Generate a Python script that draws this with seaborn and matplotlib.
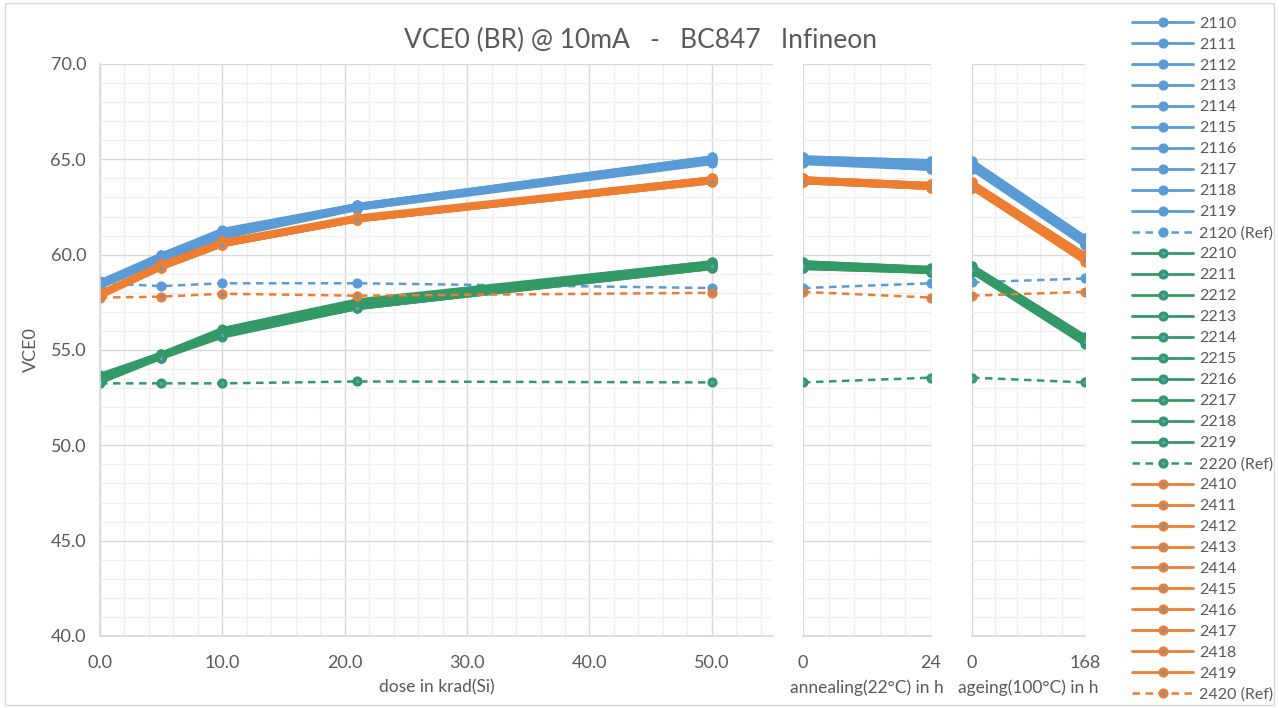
import matplotlib
matplotlib.use("Agg")
import matplotlib.pyplot as plt
import seaborn as sns
import numpy as np
from matplotlib.ticker import MultipleLocator
from matplotlib.patches import Rectangle
from matplotlib.lines import Line2D

# ---------------- data ----------------
dose_x = [0, 5, 10, 21, 50]
anneal_x = [0, 24]
ageing_x = [0, 168]

blue_labels = ["2110", "2111", "2112", "2113", "2114", "2115", "2116", "2117", "2118", "2119", "2120 (Ref)"]
green_labels = ["2210", "2211", "2212", "2213", "2214", "2215", "2216", "2217", "2218", "2219", "2220 (Ref)"]
orange_labels = ["2410", "2411", "2412", "2413", "2414", "2415", "2416", "2417", "2418", "2419", "2420 (Ref)"]

blue_dose = [
    [58.5, 60.0, 61.2, 62.6, 65.1],
    [58.4, 59.9, 61.1, 62.5, 65.0],
    [58.5, 59.8, 61.0, 62.5, 64.9],
    [58.6, 60.0, 61.2, 62.6, 65.0],
    [58.4, 59.9, 61.0, 62.4, 64.9],
    [58.5, 59.9, 61.1, 62.5, 65.0],
    [58.3, 59.7, 60.9, 62.4, 64.8],
    [58.5, 60.0, 61.3, 62.6, 65.1],
    [58.4, 59.8, 61.0, 62.5, 64.9],
    [58.5, 59.9, 61.1, 62.5, 65.0],
    [58.5, 58.35, 58.5, 58.5, 58.25],
]
blue_anneal = [[65.1, 64.9], [65.0, 64.8], [64.9, 64.6], [65.0, 64.7], [64.9, 64.5],
               [65.0, 64.7], [64.8, 64.5], [65.1, 64.9], [64.9, 64.6], [65.0, 64.8],
               [58.25, 58.5]]
blue_ageing = [[64.9, 60.9], [64.8, 60.8], [64.6, 60.6], [64.7, 60.7], [64.5, 60.5],
               [64.7, 60.7], [64.5, 60.5], [64.9, 60.9], [64.6, 60.6], [64.8, 60.8],
               [58.55, 58.75]]

green_dose = [
    [53.7, 54.8, 56.1, 57.6, 59.6],
    [53.5, 54.7, 55.9, 57.4, 59.5],
    [53.4, 54.6, 55.8, 57.3, 59.4],
    [53.6, 54.8, 56.0, 57.4, 59.5],
    [53.3, 54.6, 55.7, 57.2, 59.3],
    [53.5, 54.7, 55.9, 57.3, 59.4],
    [53.4, 54.6, 55.8, 57.2, 59.3],
    [53.6, 54.8, 56.0, 57.5, 59.6],
    [53.5, 54.7, 55.9, 57.3, 59.5],
    [53.4, 54.6, 55.8, 57.2, 59.4],
    [53.25, 53.25, 53.25, 53.35, 53.3],
]
green_anneal = [[59.6, 59.3], [59.5, 59.2], [59.4, 59.1], [59.5, 59.2], [59.3, 59.1],
                [59.4, 59.2], [59.3, 59.1], [59.6, 59.3], [59.5, 59.2], [59.4, 59.1],
                [53.3, 53.55]]
green_ageing = [[59.4, 55.7], [59.3, 55.5], [59.2, 55.4], [59.3, 55.5], [59.1, 55.3],
                [59.2, 55.5], [59.1, 55.4], [59.4, 55.7], [59.3, 55.6], [59.2, 55.4],
                [53.55, 53.3]]

orange_dose = [
    [58.0, 59.5, 60.7, 61.9, 64.0],
    [57.9, 59.4, 60.6, 61.9, 63.9],
    [57.8, 59.3, 60.5, 61.8, 63.8],
    [58.0, 59.5, 60.7, 62.0, 64.0],
    [57.9, 59.4, 60.6, 61.8, 63.9],
    [57.8, 59.3, 60.5, 61.8, 63.8],
    [57.9, 59.4, 60.6, 61.9, 63.9],
    [58.0, 59.5, 60.7, 61.9, 64.0],
    [57.9, 59.4, 60.5, 61.8, 63.9],
    [57.8, 59.3, 60.5, 61.8, 63.8],
    [57.75, 57.8, 57.95, 57.85, 58.0],
]
orange_anneal = [[64.0, 63.7], [63.9, 63.6], [63.8, 63.5], [64.0, 63.7], [63.9, 63.6],
                 [63.8, 63.5], [63.9, 63.6], [64.0, 63.7], [63.9, 63.6], [63.8, 63.5],
                 [58.05, 57.75]]
orange_ageing = [[63.8, 60.0], [63.6, 59.8], [63.5, 59.7], [63.8, 60.0], [63.6, 59.8],
                 [63.5, 59.6], [63.6, 59.8], [63.8, 59.9], [63.6, 59.7], [63.5, 59.7],
                 [57.85, 58.05]]

title = "VCE0 (BR) @ 10mA   -   BC847   Infineon"
ylabel = "VCE0"
xlabels = ["dose in krad(Si)", "annealing(22°C) in h", "ageing(100°C) in h"]

# ---------------- style ----------------
sns.set_theme(style="white")
plt.rcParams["font.family"] = ["Lato", "DejaVu Sans"]
TXT = "#595959"
MAJ = "#D9D9D9"
MIN = "#F0F0F0"
BLUE = "#5B9BD5"
ORANGE = "#ED7D31"
GREEN = "#339966"

fig = plt.figure(figsize=(12.79, 7.08), dpi=100)
W, H = 1279, 708
def rect(x0, x1, y0=64, y1=636):
    return [x0 / W, 1 - y1 / H, (x1 - x0) / W, (y1 - y0) / H]

ax1 = fig.add_axes(rect(100, 773))
ax2 = fig.add_axes(rect(803, 931))
ax3 = fig.add_axes(rect(972, 1085))

groups = [
    (BLUE, blue_labels, blue_dose, blue_anneal, blue_ageing),
    (GREEN, green_labels, green_dose, green_anneal, green_ageing),
    (ORANGE, orange_labels, orange_dose, orange_anneal, orange_ageing),
]

DASH = (0, (3.0, 2.2))
handles = []
for color, labels, dose, anneal, ageing in groups:
    for i, lab in enumerate(labels):
        ref = lab.endswith("(Ref)")
        kw = dict(color=color, marker="o", markersize=5, markeredgewidth=2.3,
                  markerfacecolor=BLUE, markeredgecolor=color,
                  linewidth=1.8 if ref else 3.0, estimator=None, legend=False)
        if ref:
            kw["linestyle"] = DASH
        sns.lineplot(x=dose_x, y=dose[i], ax=ax1, **kw)
        sns.lineplot(x=anneal_x, y=anneal[i], ax=ax2, **kw)
        sns.lineplot(x=ageing_x, y=ageing[i], ax=ax3, **kw)
        handles.append(Line2D([], [], color=color, marker="o", markersize=5,
                              markeredgewidth=2.3, markerfacecolor=BLUE,
                              markeredgecolor=color, linewidth=1.8 if ref else 2.0,
                              linestyle=DASH if ref else "-", label=lab))

limits = [(0, 55, 10, 2), (0, 24, 24, 4.8), (0, 168, 168, 33.6)]
for k, (ax, (lo, hi, maj, mnr)) in enumerate(zip([ax1, ax2, ax3], limits)):
    ax.set_xlim(lo, hi)
    ax.set_ylim(40, 70)
    ax.xaxis.set_major_locator(MultipleLocator(maj))
    ax.xaxis.set_minor_locator(MultipleLocator(mnr))
    ax.yaxis.set_major_locator(MultipleLocator(5))
    ax.yaxis.set_minor_locator(MultipleLocator(1))
    ax.grid(which="major", color=MAJ, linewidth=1.0)
    ax.grid(which="minor", color=MIN, linewidth=1.0)
    ax.set_axisbelow(True)
    for s in ["top", "right", "left"]:
        ax.spines[s].set_visible(False)
    ax.spines["bottom"].set_color(MAJ)
    ax.tick_params(axis="x", which="both", length=0, colors=TXT, labelsize=13, pad=14)
    ax.tick_params(axis="y", which="both", length=0, colors=TXT, labelsize=13, pad=10)
    ax.set_xlabel(xlabels[k], color=TXT, fontsize=12.5, labelpad=6)
    ax.set_ylabel("")
    if k > 0:
        ax.set_yticklabels([])
ax1.spines["left"].set_visible(True)
ax1.spines["left"].set_color(MAJ)
ax1.xaxis.set_major_formatter(lambda v, p: f"{v:.1f}")
ax1.yaxis.set_major_formatter(lambda v, p: f"{v:.1f}")
ax1.set_ylabel(ylabel, color=TXT, fontsize=13, labelpad=8)
for ax in (ax2, ax3):
    ax.xaxis.set_major_formatter(lambda v, p: f"{v:.0f}")

fig.text(640 / W, 1 - 40 / H, title, ha="center", va="center", color=TXT, fontsize=19)

fig.legend(handles=handles, loc="upper left", bbox_to_anchor=(1126 / W, 1 - 10 / H),
           frameon=False, fontsize=11.5, handlelength=3.8, handletextpad=0.4,
           labelspacing=0.425, borderaxespad=0, labelcolor=TXT)

fig.patches.append(Rectangle((5 / W, 3 / H), 1269 / W, 702 / H, transform=fig.transFigure,
                             fill=False, edgecolor=MAJ, linewidth=1.0))

fig.savefig("out.png", dpi=100)
